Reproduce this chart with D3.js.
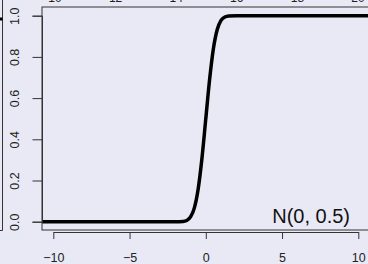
<!DOCTYPE html>
<html>
<head>
<meta charset="utf-8">
<script src="https://cdn.jsdelivr.net/npm/d3@7"></script>
<style>
body{margin:0;background:#e9e9f5}
text{font-family:"Liberation Sans",Arial,sans-serif}
</style>
</head>
<body>
<svg id=chart width=368 height=264></svg>
<script>
// values (cumulative prob. of N(0, 0.5))
var xs=[-11,-2,-1.5,-1.25,-1,-0.75,-0.5,-0.25,0,0.25,0.5,0.75,1,1.25,1.5,2,11]
var ps=[0,0,0.001,0.006,0.023,0.067,0.159,0.309,0.5,0.691,0.841,0.933,0.977,0.994,0.999,1,1]
var xTicks=[-10,-5,0,5,10]
var yTicks=[0,0.2,0.4,0.6,0.8,1]
var topTicks=[10,12,14,16,18,20]   // cut-off labels of the panel above
var label="N(0, 0.5)"

var svg=d3.select("#chart")
svg.append("rect").attr("width",368).attr("height",264).attr("fill","#e9e9f5")

var box={l:42,t:7,b:230}
var x=d3.scaleLinear().domain([-10,10]).range([53.3,358.3])
var y=d3.scaleLinear().domain([0,1]).range([221.7,15.7])

// neighbour panel edge on the left
svg.append("path").attr("d","M0,230.5H2.5V0").attr("fill","none").attr("stroke","#333")
svg.append("line").attr("x1",0).attr("x2",2.5).attr("y1",19).attr("y2",19).attr("stroke","#000").attr("stroke-width",3)

// top labels of panel above (only their lower edge shows)
var tx=d3.scaleLinear().domain([10,20]).range([55,358])
svg.selectAll(".top").data(topTicks).enter().append("text")
  .attr("x",tx).attr("y",2).attr("text-anchor","middle").attr("font-size",12).attr("fill","#222")
  .text(function(d){return d})

svg.append("clipPath").attr("id","clip").append("rect")
  .attr("x",box.l).attr("y",box.t).attr("width",400).attr("height",box.b-box.t)

svg.append("path").datum(d3.range(xs.length))
  .attr("clip-path","url(#clip)")
  .attr("fill","none").attr("stroke","#000").attr("stroke-width",3.5)
  .attr("stroke-linejoin","round")
  .attr("d",d3.line().x(function(i){return x(xs[i])}).y(function(i){return y(ps[i])}).curve(d3.curveMonotoneX))

svg.append("rect").attr("x",box.l).attr("y",box.t).attr("width",400).attr("height",box.b-box.t)
  .attr("fill","none").attr("stroke","#333")

// y axis
var ya=svg.append("g").attr("transform","translate("+box.l+",0)")
  .call(d3.axisLeft(y).tickValues(yTicks).tickSize(9.5).tickFormat(d3.format(".1f")))
ya.select(".domain").attr("stroke","#333")
ya.selectAll(".tick line").attr("stroke","#333")
ya.selectAll(".tick text").attr("font-size",12.5).attr("fill","#222")
  .attr("x",0).attr("y",0).attr("dy",null)
  .attr("text-anchor","middle").attr("dominant-baseline","central")
  .attr("transform","translate("+(15-box.l)+",0) rotate(-90)")

// x axis
var xa=svg.append("g").attr("transform","translate(0,232)")
  .call(d3.axisBottom(x).tickValues(xTicks).tickSize(7).tickSizeOuter(0).tickFormat(function(d){return d3.format("")(d).replace("-","\u2212")}))
xa.select(".domain").attr("stroke","#333")
xa.selectAll(".tick line").attr("stroke","#333")
xa.selectAll(".tick text").attr("font-size",12.5).attr("fill","#222").attr("y",26).attr("dy",null)
  .attr("dominant-baseline","central")

svg.append("text").attr("x",350).attr("y",223).attr("text-anchor","end")
  .attr("font-size",20).attr("fill","#111").text(label)
</script>
</body>
</html>
